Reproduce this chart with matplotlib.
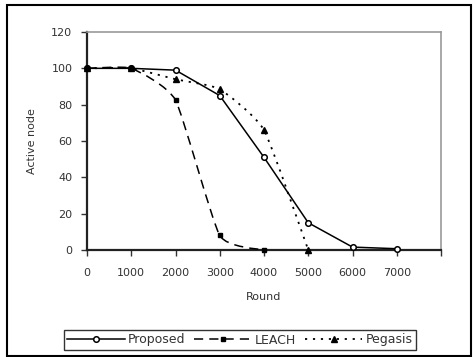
import matplotlib
matplotlib.use("Agg")
import matplotlib.pyplot as plt
from matplotlib.patches import Rectangle, PathPatch
from matplotlib.path import Path
from matplotlib.lines import Line2D

rounds_proposed = [0, 1000, 2000, 3000, 4000, 5000, 6000, 7000]
proposed = [100, 100, 99, 85, 51, 15, 1.6, 0.7]

rounds_leach = [0, 1000, 2000, 3000, 4000]
leach = [100, 100, 82.5, 8, 0]

rounds_pegasis = [0, 1000, 2000, 3000, 4000, 5000]
pegasis = [100, 100, 94, 88.5, 66, 0]

x_ticks = [0, 1000, 2000, 3000, 4000, 5000, 6000, 7000, 8000]
x_tick_labels = ["0", "1000", "2000", "3000", "4000", "5000", "6000", "7000", ""]
y_ticks = [0, 20, 40, 60, 80, 100, 120]


def smooth_path(xs, ys, k=12):
    """Gently smoothed cubic Bezier curve through the points."""
    pts = list(zip(xs, ys))
    n = len(pts)
    verts = [pts[0]]
    codes = [Path.MOVETO]
    for i in range(n - 1):
        p0 = pts[i - 1] if i > 0 else pts[i]
        p1 = pts[i]
        p2 = pts[i + 1]
        p3 = pts[i + 2] if i + 2 < n else pts[i + 1]
        c1 = (p1[0] + (p2[0] - p0[0]) / k, p1[1] + (p2[1] - p0[1]) / k)
        c2 = (p2[0] - (p3[0] - p1[0]) / k, p2[1] - (p3[1] - p1[1]) / k)
        verts += [c1, c2, p2]
        codes += [Path.CURVE4] * 3
    return Path(verts, codes)


plt.rcParams["font.family"] = ["DejaVu Sans"]
W, H = 475, 357
fig = plt.figure(figsize=(W / 100, H / 100), dpi=100)
ax = fig.add_axes([87 / W, 1 - 250 / H, (441 - 87) / W, (250 - 32) / H])

# Proposed: straight segments with open circles
ax.plot(rounds_proposed, proposed, color="black", lw=1.1, marker="o", ms=4,
        mfc="white", mec="black", mew=1.1, clip_on=False, zorder=4)

# LEACH: smoothed dashed curve with small squares
ax.add_patch(PathPatch(smooth_path(rounds_leach, leach), fill=False, edgecolor="black",
                       lw=1.1, linestyle=(0, (6, 4)), clip_on=False, zorder=3))
ax.plot(rounds_leach, leach, ls="none", marker="s", ms=2.2, mfc="black", mec="black",
        clip_on=False, zorder=4)

# Pegasis: smoothed dotted curve with filled triangles
ax.add_patch(PathPatch(smooth_path(rounds_pegasis, pegasis), fill=False, edgecolor="black",
                       lw=1.3, linestyle=(0, (1.2, 3.2)), clip_on=False, zorder=3))
ax.plot(rounds_pegasis, pegasis, ls="none", marker="^", ms=5, mfc="black", mec="black",
        clip_on=False, zorder=4)

ax.set_xlim(0, 8000)
ax.set_ylim(0, 120)
ax.set_xticks(x_ticks)
ax.set_xticklabels(x_tick_labels)
ax.set_yticks(y_ticks)
ax.tick_params(axis="both", direction="out", length=4, width=1, labelsize=8,
               colors="#333333", labelcolor="#333333")
ax.tick_params(axis="x", pad=9)
ax.tick_params(axis="y", pad=6.5)

for side in ("left", "bottom"):
    ax.spines[side].set_color("#222222")
    ax.spines[side].set_linewidth(1.6)
for side in ("top", "right"):
    ax.spines[side].set_color("#999999")
    ax.spines[side].set_linewidth(1.2)

ax.set_xlabel("Round", fontsize=8, color="#333333", labelpad=10)
ax.set_ylabel("Active node", fontsize=8, color="#333333", labelpad=10)

handles = [
    Line2D([], [], color="black", lw=1.1, marker="o", ms=4, mfc="white", mec="black",
           mew=1.1),
    Line2D([], [], color="black", lw=1.1, dashes=(6, 4), marker="s", ms=2.2,
           mfc="black", mec="black"),
    Line2D([], [], color="black", lw=1.3, dashes=(1.2, 3.2), marker="^", ms=5,
           mfc="black", mec="black"),
]
labels = ["Proposed", "LEACH", "Pegasis"]
leg = fig.legend(handles, labels, loc="center", bbox_to_anchor=(240 / W, 1 - 340 / H),
                 ncol=3, fontsize=9, frameon=True, fancybox=False, edgecolor="black",
                 handlelength=4.6, handletextpad=0.25, columnspacing=0.7,
                 borderpad=0.3, borderaxespad=0)
leg.get_frame().set_linewidth(1.0)
for t in leg.get_texts():
    t.set_color("#333333")

fig.patches.append(Rectangle((7 / W, 1 - 356 / H), (471 - 7) / W, (356 - 5) / H,
                             transform=fig.transFigure, fill=False,
                             edgecolor="black", lw=1.5))

fig.savefig("out.png", dpi=100)
